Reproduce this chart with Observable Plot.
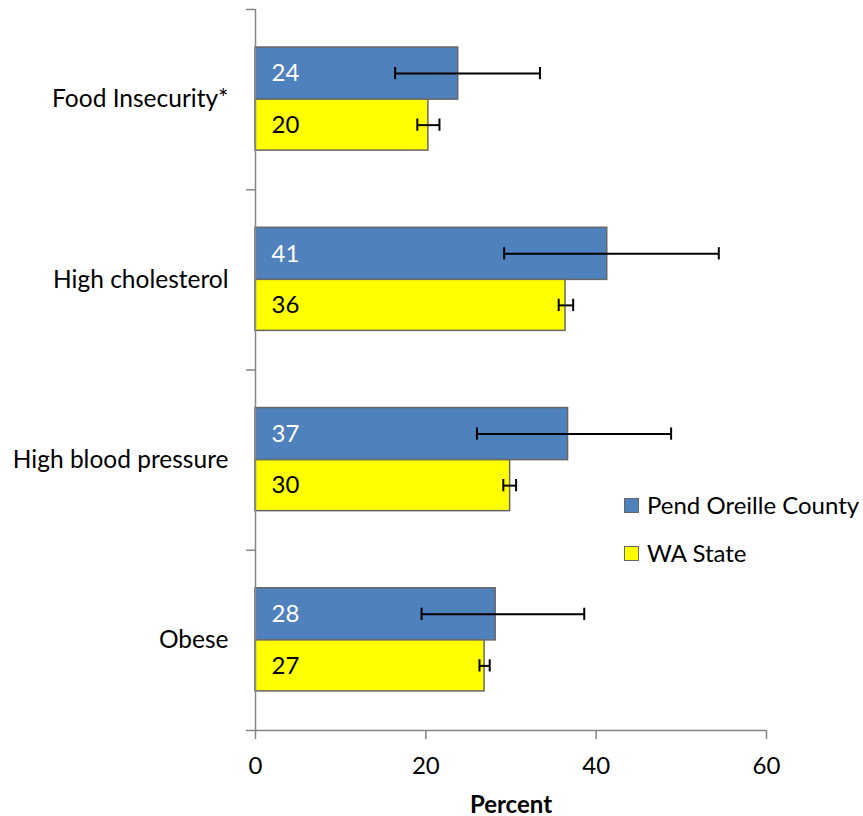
<!DOCTYPE html>
<html><head><meta charset="utf-8">
<script src="https://cdn.jsdelivr.net/npm/d3@7"></script>
<script src="https://cdn.jsdelivr.net/npm/@observablehq/plot@0.6"></script>
<style>
body{margin:0;background:#fff;font-family:Lato,sans-serif;}
#wrap{position:relative;width:863px;height:816px;}
.legend{position:absolute;left:624px;height:28px;line-height:28px;font-size:24px;display:flex;align-items:center;color:#000;white-space:nowrap;}
.sw{width:13px;height:13px;border:1.5px solid #666;margin-right:8px;}
</style></head><body><div id="wrap"></div>
<script>
const categories = ["Food Insecurity*", "High cholesterol", "High blood pressure", "Obese"];
const series = ["Pend Oreille County", "WA State"];
const countyValues = [23.8, 41.3, 36.7, 28.2];
const countyLow = [16.4, 29.2, 26.0, 19.5];
const countyHigh = [33.4, 54.4, 48.8, 38.6];
const stateValues = [20.3, 36.4, 29.9, 26.9];
const stateLow = [19.0, 35.6, 29.1, 26.3];
const stateHigh = [21.6, 37.3, 30.6, 27.5];
const xTicks = [0, 20, 40, 60];
const colors = ["#4F81BD", "#FFFF00"];
const labelColors = ["#ffffff", "#000000"];

// band layout inside each category slot (fractions of the slot)
const slotTop = [0.211, 0.5];
const slotBottom = [0.5, 0.783];

const rows = [];
categories.forEach((c, i) => {
  rows.push({cat: c, i, s: 0, value: countyValues[i], lo: countyLow[i], hi: countyHigh[i]});
  rows.push({cat: c, i, s: 1, value: stateValues[i], lo: stateLow[i], hi: stateHigh[i]});
});
const top_ = d => d.i + slotTop[d.s];
const bot_ = d => d.i + slotBottom[d.s];
const mid_ = d => (top_(d) + bot_(d)) / 2;
const cap = 0.034;
const axisGray = "#868686";
const fs = 24;

const chart = Plot.plot({
  width: 863, height: 816,
  marginLeft: 255, marginRight: 97, marginTop: 9, marginBottom: 86,
  x: {domain: [0, 60]},
  y: {domain: [0, categories.length], reverse: true},
  style: {fontFamily: "Lato, sans-serif", fontSize: fs + "px", color: "#000", background: "#fff"},
  marks: [
    Plot.rect(rows, {x1: 0, x2: "value", y1: top_, y2: bot_, fill: d => colors[d.s], stroke: "#666", strokeWidth: 1.5}),
    Plot.ruleY(rows, {y: mid_, x1: "lo", x2: "hi", stroke: "#000", strokeWidth: 2}),
    Plot.ruleX(rows, {x: "lo", y1: d => mid_(d) - cap, y2: d => mid_(d) + cap, stroke: "#000", strokeWidth: 2}),
    Plot.ruleX(rows, {x: "hi", y1: d => mid_(d) - cap, y2: d => mid_(d) + cap, stroke: "#000", strokeWidth: 2}),
    Plot.text(rows, {x: 0, y: mid_, text: d => String(Math.round(d.value)), dx: 16, textAnchor: "start", fill: d => labelColors[d.s], fontSize: fs}),
    Plot.ruleX([0], {stroke: axisGray, strokeWidth: 1.5}),
    Plot.ruleY([categories.length], {stroke: axisGray, strokeWidth: 1.5}),
    Plot.axisY({ticks: d3.range(categories.length + 1), tickSize: 9, tickFormat: () => "", stroke: axisGray, strokeWidth: 1.5, label: null}),
    Plot.text(categories, {x: 0, y: (d, i) => i + 0.5, text: d => d, textAnchor: "end", dx: -27, fontSize: 24.5, fill: "#000"}),
    Plot.axisX({ticks: xTicks, tickSize: 9, tickPadding: 17, stroke: axisGray, strokeWidth: 1.5, fill: "#000", fontSize: fs, label: null}),
    Plot.text(["Percent"], {frameAnchor: "bottom", dy: 82, fontWeight: "bold", fontSize: fs, fill: "#000"})
  ]
});
const wrap = document.getElementById("wrap");
wrap.appendChild(chart);
const legendTops = [491, 539];
series.forEach((s, k) => {
  const d = document.createElement("div");
  d.className = "legend";
  d.style.top = legendTops[k] + "px";
  const sw = document.createElement("span");
  sw.className = "sw";
  sw.style.background = colors[k];
  d.appendChild(sw);
  d.appendChild(document.createTextNode(s));
  wrap.appendChild(d);
});
</script></body></html>
